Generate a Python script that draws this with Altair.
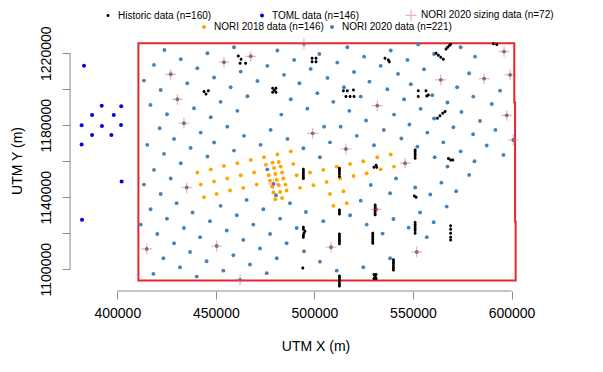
import altair as alt
import pandas as pd

FONT = "Liberation Sans"

# ---------------- data (UTM metres) ----------------
series_names = [
    "Historic data (n=160)",
    "TOML data (n=146)",
    "NORI 2020 sizing data (n=72)",
    "NORI 2018 data (n=146)",
    "NORI 2020 data (n=221)",
]

hist_x = [461400, 462800, 462300, 465100, 498800, 500800, 498800, 500800,
          444000, 445000, 446200, 478800, 480500, 479700, 478800, 480500,
          514700, 516700, 519800, 516000, 518100, 520100,
          566800, 567600, 568500, 569100, 561700, 562900, 564100, 565400,
          535800, 537500, 538000, 590800, 592500,
          552700, 556600, 552700, 557000, 557800,
          562400, 563700, 565100, 566300,
          494400, 494400, 494400, 494400, 494400, 494400,
          494400, 494400, 495200, 494700, 494400, 494400, 494100,
          512700, 512700, 512700, 512700, 512700,
          512700, 512700, 512700,
          512700, 512700, 512700, 512700, 512700, 512700,
          512700, 512700, 512700, 512700, 512700, 512700,
          551100, 551100, 551100, 551100, 551100,
          568000, 569100, 570200, 530200, 531300, 531600, 550700, 551600,
          530800, 530800, 530800, 530800, 530800, 530800,
          551100, 551100, 551100, 551100, 551100, 551100,
          569100, 569100, 569100, 569100, 569100,
          529600, 529600, 529600, 529600, 529600, 529600,
          540100, 540100, 540100, 540100, 540100, 540100,
          530200, 531300, 530800, 530200, 531300]
hist_y = [1218500, 1216700, 1214400, 1214400, 1217200, 1217200, 1215200, 1215200,
          1198700, 1197400, 1199100, 1200500, 1200500, 1199400, 1198300, 1198300,
          1199200, 1199200, 1199600, 1195900, 1195900, 1195900,
          1222400, 1223300, 1224300, 1225000, 1220000, 1218900, 1217800, 1216700,
          1217200, 1216300, 1215200, 1225200, 1224800,
          1199200, 1199200, 1195900, 1196300, 1196800,
          1183900, 1185200, 1186700, 1187600,
          1155500, 1154400, 1153300, 1152200, 1151100, 1150400,
          1123300, 1122200, 1121100, 1120000, 1118900, 1117800, 1100700,
          1156100, 1155200, 1154100, 1152900, 1151500,
          1132900, 1131800, 1130700,
          1119600, 1118500, 1117400, 1116300, 1115200, 1114100,
          1096300, 1095200, 1094100, 1093000, 1091800, 1090700,
          1166300, 1165200, 1164100, 1163000, 1161700,
          1161500, 1160700, 1160700, 1156700, 1157800, 1156700, 1140700, 1140000,
          1135700, 1134600, 1133500, 1132400, 1131300, 1130200,
          1125900, 1124800, 1123700, 1122600, 1121500, 1120000,
          1124100, 1122200, 1120000, 1117800, 1116300,
          1120000, 1118900, 1117800, 1116600, 1115500, 1114400,
          1105200, 1104100, 1103000, 1101800, 1100700, 1099600,
          1097000, 1097000, 1095900, 1094800, 1094800]

toml_x = [383100, 392100, 402000, 387200, 398200, 381900, 392200, 401900,
          387200, 397000, 381900, 402200, 382100]
toml_y = [1213000, 1190800, 1190600, 1185700, 1185700, 1180000, 1179600, 1180100,
          1174500, 1174500, 1169300, 1148800, 1127500]

sizing_x = [427100, 454100, 467700, 494700, 430500, 433800, 499100, 516000,
            596200, 599300, 564100, 586100, 531900, 597600, 600900,
            435200, 479200, 414900, 450400, 508400, 462300,
            546000, 531300, 551900]
sizing_y = [1208300, 1215000, 1218300, 1225200, 1194400, 1181100, 1175500, 1166800,
            1220900, 1208000, 1205200, 1205900, 1190900, 1185500, 1171800,
            1145400, 1147400, 1111300, 1112900, 1112200, 1094100,
            1158900, 1133300, 1109600]

n2018_x = [440600, 447400, 454100, 460900, 467700, 474400, 481200, 488000,
           442300, 449100, 455800, 462600, 469400,
           444000, 450400, 457200, 463900, 470700,
           475400, 478800, 481900, 479500, 482900, 476800, 480200, 483600,
           477500, 480900, 484200, 478500, 481900, 485300, 479200, 482600,
           485900, 480200, 483600,
           489300, 491000, 492700, 497800, 499500, 504500, 506200, 507900,
           509600, 511300, 513000, 514700, 516400, 518100, 519800, 524800,
           526500, 531900, 538700, 533600, 540400]
n2018_y = [1153700, 1155500, 1157400, 1158900, 1160700, 1162200, 1163700, 1165500,
           1147000, 1148700, 1150400, 1152200, 1153700,
           1140000, 1141800, 1143700, 1145200, 1147000,
           1158100, 1159200, 1159600, 1156300, 1157000, 1152200, 1152900, 1153700,
           1149200, 1149600, 1150400, 1145900, 1146700, 1147000, 1142600, 1142900,
           1143700, 1138900, 1139600,
           1158500, 1152200, 1145200, 1153700, 1146700, 1155200, 1148500, 1141800,
           1135200, 1157000, 1150400, 1143300, 1136700, 1158500, 1151800, 1160000,
           1153300, 1162200, 1163700, 1155500, 1157000]

n2020_x = [423900, 459200, 445700, 481200, 516700, 502500, 418600, 432200, 440600, 462600,
           476100, 489700, 498100, 511600, 413500, 435500, 449100, 471100, 484600, 506600,
           520100, 422000, 457500, 492400, 515000, 527900, 416800, 438900, 452400, 466000,
           488000, 501500, 509600, 517700, 425200, 447400, 460900, 483200, 496400, 526200,
           421500, 442300, 455800, 477800, 504900, 513300, 428800, 464300, 486300, 521500,
           415200, 437200, 449100, 472700, 494400, 507900, 423700, 445700, 459200, 502800,
           525200, 538700, 552700, 560700, 574200, 581500, 533600, 547200, 555600, 578500,
           542400, 548900, 559800, 572400, 594200, 537000, 545500, 580600, 523500, 567500,
           590000, 553900, 574600, 540400, 560700, 584000, 548200, 570500, 591800, 535200,
           557300, 544100, 580500, 565400, 530200, 587400, 552200, 574200, 595900, 561000,
           432200, 418600, 476100, 427100, 413500, 422000, 430100, 452400, 465600, 480500,
           487600, 416900, 438200, 460600, 474100, 425200, 447000, 482600, 495700, 504500,
           518100, 523500, 526500, 411900, 433800, 455500, 469000, 491000, 420300, 442000,
           463900, 477500, 428800, 436900, 485900, 494700, 472400, 458900, 423400, 445300,
           480900, 502800, 524800, 431800, 453800, 467300, 511300, 418300, 440300, 475800,
           581200, 567500, 578500, 541400, 564400, 528600, 551100, 571900, 538400, 558800,
           567100, 553600, 540100, 560500, 547800, 534600, 557000, 538400]
n2020_y = [1221800, 1223300, 1220000, 1221500, 1223300, 1219600, 1213500, 1216700, 1211700, 1209800,
           1213000, 1216300, 1211300, 1214800, 1204800, 1203300, 1206500, 1204600, 1208000, 1206300,
           1209600, 1199600, 1201100, 1203300, 1201100, 1204200, 1191300, 1189400, 1193000, 1196100,
           1194400, 1197800, 1193000, 1188000, 1186100, 1184400, 1188000, 1185900, 1189200, 1182600,
           1178300, 1175900, 1179200, 1177400, 1179200, 1179200, 1172400, 1174100, 1172400, 1174100,
           1169100, 1167400, 1170400, 1169100, 1167200, 1170500, 1164100, 1162600, 1165900, 1162200,
           1218100, 1221500, 1225000, 1219600, 1223300, 1218100, 1213000, 1216300, 1211100, 1208900,
           1208500, 1202800, 1196700, 1201100, 1199200, 1200000, 1194400, 1195900, 1195900, 1192600,
           1191800, 1189100, 1187400, 1185900, 1183700, 1182400, 1180400, 1178900, 1177400, 1177400,
           1175900, 1172600, 1175000, 1170500, 1168900, 1168700, 1168100, 1165500, 1163500, 1162200,
           1158900, 1155200, 1155500, 1150400, 1147000, 1141800, 1136700, 1135200, 1138500, 1141100,
           1136700, 1133300, 1131500, 1130000, 1133300, 1128100, 1126700, 1128100, 1131800, 1126700,
           1130000, 1138100, 1124800, 1124800, 1122900, 1121500, 1124800, 1122900, 1119600, 1117800,
           1116300, 1119600, 1114400, 1109600, 1114400, 1110000, 1111500, 1107800, 1106100, 1104400,
           1106100, 1104200, 1101100, 1101100, 1099200, 1102600, 1099200, 1097400, 1095900, 1097800,
           1160000, 1157000, 1152400, 1150400, 1148100, 1146800, 1145400, 1143300, 1142200, 1141500,
           1134800, 1131500, 1127900, 1126100, 1123100, 1119800, 1117800, 1106100]

# licence-area outline (vertices)
area_x = [410700, 410700, 601400, 601400, 601800, 601800, 602100, 602100, 410700]
area_y = [1093700, 1225600, 1225600, 1192600, 1192600, 1126400, 1126400, 1093700, 1093700]

x_ticks = [400000, 450000, 500000, 550000, 600000]
y_ticks = [1100000, 1120000, 1140000, 1160000, 1180000, 1200000, 1220000]
x_title = "UTM X (m)"
y_title = "UTM Y (m)"

# ---------------- tables ----------------
def frame(xs, ys, name):
    return pd.DataFrame({"x": xs, "y": ys, "series": name})

g1 = pd.concat([frame(hist_x, hist_y, series_names[0]),
                frame(toml_x, toml_y, series_names[1]),
                frame(sizing_x, sizing_y, series_names[2])], ignore_index=True)
# sizing sites are NORI 2020 stations too (blue dot under each cross)
g2 = pd.concat([frame(n2020_x + sizing_x, n2020_y + sizing_y, series_names[4]),
                frame(n2018_x, n2018_y, series_names[3])], ignore_index=True)
area = pd.DataFrame({"x": area_x, "y": area_y, "i": list(range(len(area_x)))})
xline = pd.DataFrame({"x": [x_ticks[0]], "x2": [x_ticks[-1]]})
yline = pd.DataFrame({"y": [y_ticks[0]], "y2": [y_ticks[-1]]})

# ---------------- layout / style ----------------
W, H = 491, 261
X_DOMAIN = [376000, 625100]
Y_DOMAIN = [1087900, 1232900]
AX = "#8c8c8c"

x_scale = alt.Scale(domain=X_DOMAIN, nice=False, zero=False)
y_scale = alt.Scale(domain=Y_DOMAIN, nice=False, zero=False)

x_axis = alt.Axis(values=x_ticks, format="d", domain=False, grid=False,
                  tickColor=AX, tickSize=8, tickWidth=1,
                  labelFont=FONT, labelFontSize=14, labelColor="#000",
                  labelPadding=7, labelFlush=False, labelOverlap=False,
                  title=x_title, titleFont=FONT, titleFontSize=14,
                  titleFontWeight="normal", titleColor="#000", titlePadding=19)
y_axis = alt.Axis(values=y_ticks, format="d", domain=False, grid=False,
                  tickColor=AX, tickSize=8, tickWidth=1,
                  labelFont=FONT, labelFontSize=14, labelColor="#000",
                  labelAngle=270, labelAlign="center", labelBaseline="bottom",
                  labelPadding=9, labelFlush=False, labelOverlap=False,
                  labelExpr="datum.value % 40000 == 20000 ? datum.label : ''",
                  title=y_title, titleFont=FONT, titleFontSize=14,
                  titleFontWeight="normal", titleColor="#000", titlePadding=15)

X = alt.X("x:Q", scale=x_scale, axis=x_axis)
Y = alt.Y("y:Q", scale=y_scale, axis=y_axis)

SMALL_DOT = "M0.75,0A0.75,0.75,0,1,1,-0.75,0A0.75,0.75,0,1,1,0.75,0Z"
PLUS = "M-2.7,-0.3L2.7,-0.3L2.7,0.3L-2.7,0.3ZM-0.3,-2.7L0.3,-2.7L0.3,2.7L-0.3,2.7Z"

leg1 = alt.Legend(title=None, orient="none", legendX=33, legendY=-20,
                  direction="horizontal", symbolSize=16, symbolStrokeWidth=0,
                  symbolOpacity=1, labelFont=FONT, labelFontSize=10,
                  labelColor="#000", labelOffset=5, columnPadding=45,
                  padding=0, labelLimit=400)
leg2 = alt.Legend(title=None, orient="none", legendX=129, legendY=-8,
                  direction="horizontal", symbolSize=16, symbolStrokeWidth=0,
                  symbolOpacity=1, labelFont=FONT, labelFontSize=10,
                  labelColor="#000", labelOffset=5, columnPadding=3,
                  padding=0, labelLimit=400)

g1_domain = series_names[:3]
g2_domain = [series_names[3], series_names[4]]

area_layer = alt.Chart(area).mark_line(color="#e8262b", strokeWidth=2,
                                       strokeJoin="miter", strokeCap="square").encode(
    x=X, y=Y, order=alt.Order("i:Q"))

xline_layer = alt.Chart(xline).mark_rule(color=AX, strokeWidth=1).encode(
    x=X, x2="x2:Q", y=alt.value(H))
yline_layer = alt.Chart(yline).mark_rule(color=AX, strokeWidth=1).encode(
    y=Y, y2="y2:Q", x=alt.value(0))

g2_layer = alt.Chart(g2).mark_point(filled=True, size=15, opacity=1,
                                    strokeWidth=0, shape="circle").encode(
    x=X, y=Y,
    color=alt.Color("series:N", scale=alt.Scale(domain=g2_domain,
                                                range=["#ffa500", "#4682b4"]),
                    legend=leg2))

g1_layer = alt.Chart(g1).mark_point(filled=True, size=16, opacity=1,
                                    strokeWidth=0).encode(
    x=X, y=Y,
    color=alt.Color("series:N", scale=alt.Scale(domain=g1_domain,
                                                range=["#000000", "#0000e0",
                                                       "rgba(230,70,90,0.45)"]),
                    legend=leg1),
    shape=alt.Shape("series:N", scale=alt.Scale(domain=g1_domain,
                                                range=[SMALL_DOT, "circle", PLUS]),
                    legend=leg1))

chart = alt.layer(area_layer, xline_layer, yline_layer, g2_layer, g1_layer).resolve_scale(
    color="independent", shape="independent"
).properties(
    width=W, height=H,
    autosize=alt.AutoSizeParams(type="none"),
    padding={"left": 62, "top": 22, "right": 34, "bottom": 73},
    background="white",
).configure_view(strokeWidth=0)

chart.save("out.html", embed_options={"renderer": "svg", "actions": False})
